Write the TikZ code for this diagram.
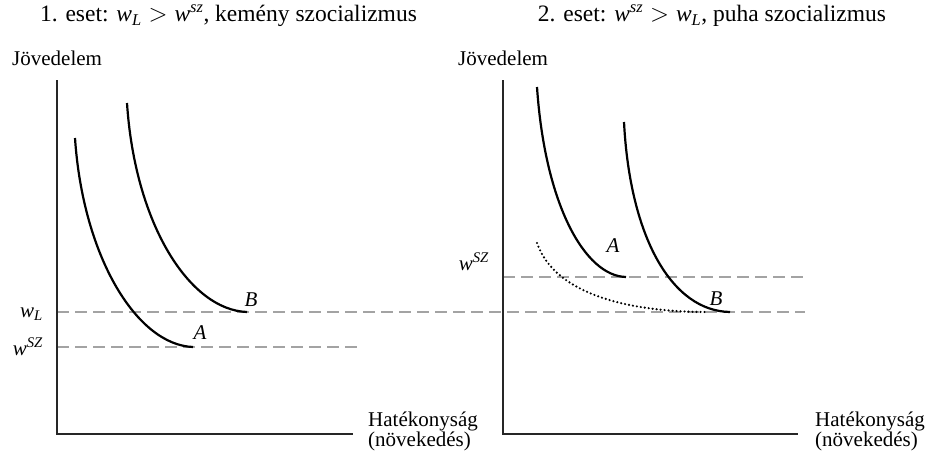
\documentclass[tikz,border=0pt]{standalone}
\usepackage{amsmath}
\usepackage{fontspec}
\setmainfont{Liberation Serif}
\usetikzlibrary{positioning,calc}
\definecolor{levelgray}{HTML}{a3a3a3}

\begin{document}
\begin{tikzpicture}[x=1pt,y=-1pt,
  axis/.style={line width=1.5pt, color=black!85},
  curve/.style={line width=2.2pt},
  level/.style={line width=1.5pt, color=levelgray, dash pattern=on 12pt off 6pt},
  ttl/.style={font=\fontsize{23.5}{28}\selectfont, inner sep=0pt},
  lbl/.style={font=\fontsize{21}{16}\selectfont, inner sep=0pt, align=left},
  pt/.style={font=\fontsize{21}{21}\selectfont\itshape, inner sep=0pt, anchor=base},
]
  \useasboundingbox (0,0) rectangle (929,453);
  \coordinate (top1) at (57,80); \coordinate (o1) at (57,434); \coordinate (end1) at (353,434);
  \coordinate (top2) at (503,80); \coordinate (o2) at (503,434); \coordinate (end2) at (798,434);
  \coordinate (wl1) at (57,312); \coordinate (wl2) at (805,312);
  \coordinate (ws1) at (57,347); \coordinate (ws1e) at (357,347);
  \coordinate (ws2) at (503,277); \coordinate (ws2e) at (803,277);
  \coordinate (a1s) at (75,138); \coordinate (a1e) at (193,347);
  \coordinate (b1s) at (127,103); \coordinate (b1e) at (247,312);
  \coordinate (a2s) at (537,87); \coordinate (a2e) at (626,277);
  \coordinate (b2s) at (624,122); \coordinate (b2e) at (730,312);
  \coordinate (d2s) at (537,243); \coordinate (d2e) at (708,312);
  \node[ttl](t1) at (228.5,16){1. eset: $\textit{w}_{\textit{L}} > \textit{w}^{\textit{sz}}$, kemény szocializmus};
  \node[ttl](t2) at (712,16){2. eset: $\textit{w}^{\textit{sz}} > \textit{w}_{\textit{L}}$, puha szocializmus};
  \node[lbl,anchor=west](j1) at (12,58){Jövedelem}; \node[lbl,anchor=west](j2) at (458,58){Jövedelem};
  \node[lbl,anchor=north west](h1) at (368,412){Hatékonyság\\(növekedés)};
  \node[lbl,anchor=north west](h2) at (815,412){Hatékonyság\\(növekedés)};
  \node[lbl,anchor=base east](lwl) at (43,317){$\textit{w}_{\textit{L}}$};
  \node[lbl,anchor=base east](lws1) at (43,355){$\textit{w}^{\textit{SZ}}$};
  \node[lbl,anchor=base east](lws2) at (489,270){$\textit{w}^{\textit{SZ}}$};
  \draw[level](wl1)--(wl2); \draw[level](ws1)--(ws1e); \draw[level](ws2)--(ws2e);
  \draw[axis](top1)--(o1)--(end1); \draw[axis](top2)--(o2)--(end2);
  \draw[curve](a1s) .. controls (83,257) and (137,345) .. (a1e);
  \draw[curve](b1s) .. controls (135,225) and (190,310) .. (b1e);
  \draw[curve](a2s) .. controls (545,205) and (585,276) .. (a2e);
  \draw[curve](b2s) .. controls (630,238) and (672,311) .. (b2e);
  \draw[line width=2.4pt, dash pattern=on 0pt off 4pt, line cap=round](d2s) .. controls (555,295) and (630,312) .. (d2e);
  \node[pt](la1) at (200,339){A}; \node[pt](lb1) at (251,306){B};
  \node[pt](la2) at (613,252){A}; \node[pt](lb2) at (716,305){B};
\end{tikzpicture}
\end{document}
